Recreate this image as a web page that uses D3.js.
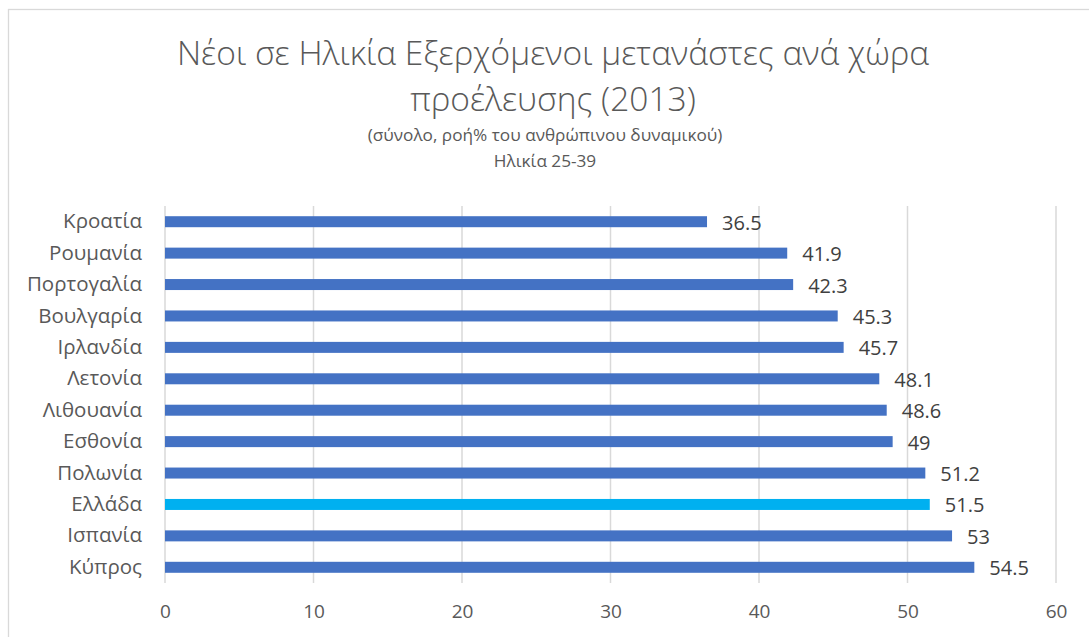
<!DOCTYPE html>
<html>
<head>
<meta charset="utf-8">
<script src="https://cdn.jsdelivr.net/npm/d3@7"></script>
<style>
  body { margin: 0; background: #fff; }
  svg text { font-family: "Open Sans", "Noto Sans", sans-serif; }
</style>
</head>
<body>
<div id="chart"></div>
<script>
// data, top to bottom as in the picture
const countries = ['Κροατία', 'Ρουμανία', 'Πορτογαλία', 'Βουλγαρία', 'Ιρλανδία', 'Λετονία',
                   'Λιθουανία', 'Εσθονία', 'Πολωνία', 'Ελλάδα', 'Ισπανία', 'Κύπρος'];
const values = [36.5, 41.9, 42.3, 45.3, 45.7, 48.1, 48.6, 49, 51.2, 51.5, 53, 54.5];
const xTicks = [0, 10, 20, 30, 40, 50, 60];
const highlight = 'Ελλάδα';
const titleLines = ['Νέοι σε Ηλικία Εξερχόμενοι μετανάστες ανά χώρα', 'προέλευσης (2013)'];
const subtitleLines = ['(σύνολο, ροή% του ανθρώπινου δυναμικού)', 'Ηλικία 25-39'];

function drawChart() {
    let width = 1089,
        height = 637,
        plot = {left: 165, right: 1056, top: 206, bottom: 583},
        svg = d3.select('#chart').append('svg')
                .attr('width', width)
                .attr('height', height);

    let data = countries.map((c, i) => ({name: c, value: values[i]}));

    // chart frame (cropped on the right and bottom)
    svg.append('rect')
       .attr('x', 8.5).attr('y', 9.5)
       .attr('width', 1200).attr('height', 800)
       .attr('fill', '#fff')
       .attr('stroke', '#d9d9d9')
       .attr('stroke-width', 1.3);

    // titles
    svg.selectAll('text.title')
       .data(titleLines).enter().append('text')
       .attr('class', 'title')
       .attr('x', 553)
       .attr('y', (d, i) => 65 + i * 46)
       .attr('text-anchor', 'middle')
       .attr('font-size', 33.5)
       .attr('font-weight', 300)
       .attr('fill', '#595959')
       .text(d => d);
    svg.selectAll('text.subtitle')
       .data(subtitleLines).enter().append('text')
       .attr('class', 'subtitle')
       .attr('x', 545)
       .attr('y', (d, i) => 141 + i * 26)
       .attr('text-anchor', 'middle')
       .attr('font-size', 17.2)
       .attr('fill', '#595959')
       .text(d => d);

    // scales
    let xScale = d3.scaleLinear().domain([0, 60]).range([plot.left, plot.right]);
    let yScale = d3.scaleBand().domain(countries)
                   .range([plot.top, plot.bottom])
                   .paddingInner(0.65).paddingOuter(0.325);

    // grid
    svg.append('g').attr('class', 'grid')
       .selectAll('line').data(xTicks).enter().append('line')
       .attr('x1', d => xScale(d)).attr('x2', d => xScale(d))
       .attr('y1', plot.top).attr('y2', plot.bottom)
       .attr('stroke', '#d9d9d9')
       .attr('stroke-width', 1.5);

    // x axis labels
    let xAxis = d3.axisBottom(xScale).tickValues(xTicks).tickSize(0).tickPadding(0);
    let xAxisGroup = svg.append('g')
                        .attr('transform', `translate(0, ${plot.bottom + 21})`)
                        .call(xAxis);
    xAxisGroup.select('path.domain').remove();
    xAxisGroup.selectAll('text')
              .attr('font-size', 19)
              .attr('fill', '#595959')
              .style('font-family', '"Open Sans", sans-serif');

    // y axis labels
    let yAxis = d3.axisLeft(yScale).tickSize(0).tickPadding(0);
    let yAxisGroup = svg.append('g')
                        .attr('transform', `translate(142, 0)`)
                        .call(yAxis);
    yAxisGroup.select('path.domain').remove();
    yAxisGroup.selectAll('text')
              .attr('font-size', 20.5)
              .attr('fill', '#595959')
              .style('font-family', '"Open Sans", sans-serif');

    // bars
    svg.append('g').attr('class', 'bars')
       .selectAll('rect').data(data).enter().append('rect')
       .attr('x', xScale(0))
       .attr('y', d => yScale(d.name))
       .attr('width', d => xScale(d.value) - xScale(0))
       .attr('height', yScale.bandwidth())
       .attr('fill', d => d.name === highlight ? '#00b0f0' : '#4472c4');

    // value labels
    svg.append('g').attr('class', 'values')
       .selectAll('text').data(data).enter().append('text')
       .attr('x', d => xScale(d.value) + 15)
       .attr('y', d => yScale(d.name) + yScale.bandwidth() / 2)
       .attr('dy', '0.4em')
       .attr('font-size', 20)
       .attr('fill', '#404040')
       .text(d => d.value);
}

drawChart();
</script>
</body>
</html>
